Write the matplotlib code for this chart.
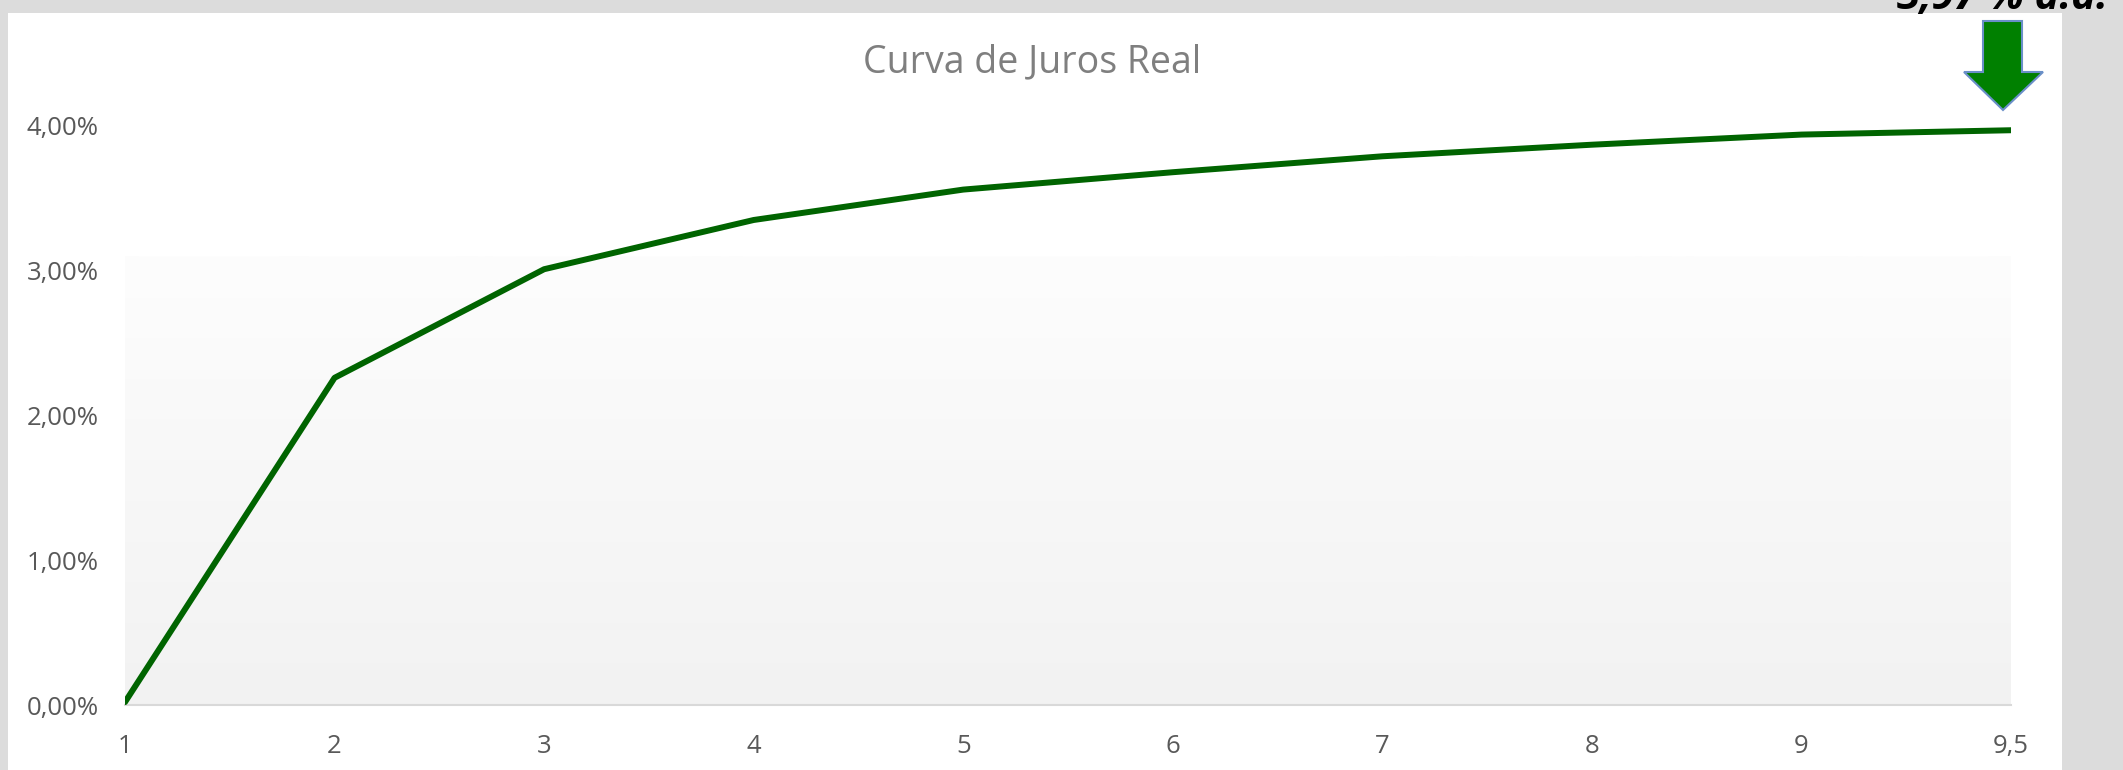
import numpy as np
import matplotlib.pyplot as plt
from matplotlib.patches import Rectangle, Polygon
from matplotlib.colors import LinearSegmentedColormap

# dados da curva (vértices em anos, taxa real a.a.)
vertices = ['1', '2', '3', '4', '5', '6', '7', '8', '9', '9,5']
taxas = [0.0002, 0.0226, 0.0301, 0.0335, 0.0356, 0.0368, 0.0379, 0.0387, 0.0394, 0.0397]
yticks = [0.0, 0.01, 0.02, 0.03, 0.04]
titulo = 'Curva de Juros Real'
destaque = '3,97 % a.a.'

W, H = 2123, 770
fig = plt.figure(figsize=(W / 100, H / 100), dpi=100)
fig.patch.set_facecolor('#dcdcdc')

# painel branco do gráfico
fig.patches.append(Rectangle((8 / W, 0), (2062 - 8) / W, (H - 13) / H,
                             transform=fig.transFigure, facecolor='white',
                             edgecolor='none', zorder=-5))

ax = fig.add_axes([125 / W, 1 - 705 / H, (2011 - 125) / W, (705 - 53.5) / H])
ax.set_zorder(1)
ax.set_facecolor('white')
x = np.arange(len(vertices))
ax.set_xlim(0, len(vertices) - 1)
ax.set_ylim(0, 0.045)

# degradê do fundo da área de plotagem
cmap = LinearSegmentedColormap.from_list('fundo', ['#f2f2f2', '#fdfdfd'])
grad = np.linspace(0, 1, 256).reshape(-1, 1)
ax.imshow(grad, cmap=cmap, aspect='auto', origin='lower',
          extent=[0, len(vertices) - 1, 0, 0.031], zorder=0)

ax.plot(x, taxas, color='#006400', lw=4.3, solid_capstyle='round', zorder=3)

ax.set_xticks(x)
ax.set_xticklabels(vertices)
ax.set_yticks(yticks)
ax.set_yticklabels([f'{v * 100:.2f}%'.replace('.', ',') for v in yticks])
for lab in ax.get_xticklabels() + ax.get_yticklabels():
    lab.set_fontfamily('Open Sans')
    lab.set_fontsize(18.5)
    lab.set_color('#595959')
ax.tick_params(axis='both', length=0)
ax.tick_params(axis='y', pad=19)
ax.tick_params(axis='x', pad=21)

for s in ['top', 'right', 'left']:
    ax.spines[s].set_visible(False)
ax.spines['bottom'].set_color('#d9d9d9')
ax.spines['bottom'].set_linewidth(1.5)

fig.text(1032 / W, 1 - 62 / H, titulo, ha='center', va='center',
         fontsize=27, color='#7f7f7f', family='Open Sans')

# seta de destaque
pts = [(1983, 21), (2022, 21), (2022, 72), (2043, 72), (2003, 110),
       (1964, 72), (1983, 72)]
fig.patches.append(Polygon([(px / W, 1 - py / H) for px, py in pts], closed=True,
                           transform=fig.transFigure, facecolor='#008000',
                           edgecolor='#6a8fc8', lw=1.5, zorder=5))
fig.text(1897 / W, 1 - 9 / H, destaque, ha='left', va='baseline',
         fontsize=30, fontweight='bold', fontstyle='italic', color='black',
         family='Open Sans')

fig.savefig('out.png', dpi=100, facecolor=fig.get_facecolor())
